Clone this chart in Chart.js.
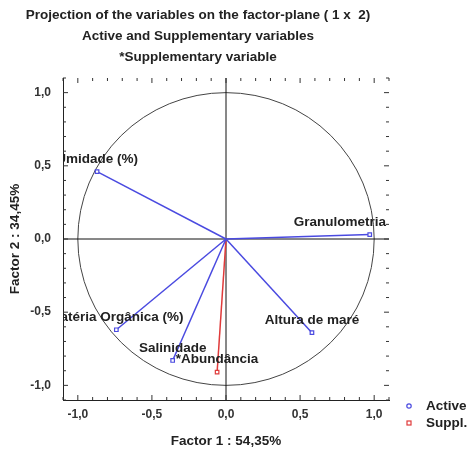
<!DOCTYPE html>
<html>
<head>
<meta charset="utf-8">
<script src="https://cdn.jsdelivr.net/npm/chart.js@4.4.0/dist/chart.umd.min.js"></script>
<style>
  html, body { margin: 0; padding: 0; background: #fff; }
  #wrap { width: 467px; height: 449px; }
</style>
</head>
<body>
<div id="wrap"><canvas id="factorChart"></canvas></div>
<script>
'use strict';

// Variabler og deres koordinater på faktorplanet (1 x 2)
const variableNames = ['Umidade (%)', 'Granulometria', 'Altura de maré', 'Matéria Orgânica (%)', 'Salinidade', '*Abundância'];
const factor1 = [-0.87, 0.97, 0.58, -0.74, -0.36, -0.06];
const factor2 = [0.46, 0.03, -0.64, -0.62, -0.83, -0.91];
const variableType = ['active', 'active', 'active', 'active', 'active', 'suppl'];
const axisTicks = [-1, -0.5, 0, 0.5, 1];
const titleLines = [
    'Projection of the variables on the factor-plane ( 1 x  2)',
    'Active and Supplementary variables',
    '*Supplementary variable'
];
const legendLabels = ['Active', 'Suppl.'];

const FONT = "'Liberation Sans', Arial, sans-serif";
const TEXT = '#222';
const BLUE = '#4a4ae0';
const RED = '#e03a3a';

function fmt(v) {
    return v.toFixed(1).replace('.', ',');
}

const datasets = variableNames.map(function(name, i) {
    const color = variableType[i] === 'suppl' ? RED : BLUE;
    return {
        label: name,
        data: [{ x: 0, y: 0 }, { x: factor1[i], y: factor2[i] }],
        showLine: true,
        borderColor: color,
        borderWidth: 1.5,
        pointStyle: 'rect',
        pointRadius: [0, 2.5],
        pointBorderColor: color,
        pointBackgroundColor: '#fff',
        pointBorderWidth: 1.2
    };
});

// Cirkel, nul-akser og indvendige tick-mærker
const decorPlugin = {
    id: 'decor',
    beforeDatasetsDraw: function(chart) {
        const ctx = chart.ctx;
        const xs = chart.scales.x, ys = chart.scales.y;
        const a = chart.chartArea;
        const cx = xs.getPixelForValue(0), cy = ys.getPixelForValue(0);
        ctx.save();
        ctx.strokeStyle = '#444';
        ctx.lineWidth = 1;
        ctx.beginPath();
        ctx.ellipse(cx, cy, xs.getPixelForValue(1) - cx, cy - ys.getPixelForValue(1), 0, 0, Math.PI * 2);
        ctx.stroke();

        ctx.strokeStyle = '#111';
        ctx.beginPath();
        ctx.moveTo(a.left, cy); ctx.lineTo(a.right, cy);
        ctx.moveTo(cx, a.top); ctx.lineTo(cx, a.bottom);
        ctx.stroke();

        ctx.strokeStyle = '#333';
        ctx.beginPath();
        for (let k = -11; k <= 11; k++) {
            const v = k / 10;
            const len = (k % 5 === 0) ? 5 : 3;
            const px = xs.getPixelForValue(v);
            const py = ys.getPixelForValue(v);
            ctx.moveTo(px, a.bottom); ctx.lineTo(px, a.bottom - len);
            ctx.moveTo(px, a.top); ctx.lineTo(px, a.top + len);
            ctx.moveTo(a.left, py); ctx.lineTo(a.left + len, py);
            ctx.moveTo(a.right, py); ctx.lineTo(a.right - len, py);
        }
        ctx.stroke();
        ctx.restore();
    },
    // Etiketter centreres over punktet, men holdes inden for højre kant
    afterDatasetsDraw: function(chart) {
        const ctx = chart.ctx;
        const xs = chart.scales.x, ys = chart.scales.y;
        const a = chart.chartArea;
        ctx.save();
        ctx.beginPath();
        ctx.rect(a.left, a.top, a.right - a.left, a.bottom - a.top);
        ctx.clip();
        ctx.font = 'bold 13.5px ' + FONT;
        ctx.fillStyle = TEXT;
        ctx.textAlign = 'center';
        ctx.textBaseline = 'middle';
        variableNames.forEach(function(name, i) {
            const px = xs.getPixelForValue(factor1[i]);
            const py = ys.getPixelForValue(factor2[i]);
            const w = ctx.measureText(name).width;
            const x = Math.min(px, a.right - 3 - w / 2);
            ctx.fillText(name, x, py - 12.5);
        });
        ctx.restore();
    },
    afterDraw: function(chart) {
        const ctx = chart.ctx;
        ctx.save();
        ctx.font = 'bold 13.5px ' + FONT;
        ctx.fillStyle = TEXT;
        ctx.textAlign = 'center';
        ctx.textBaseline = 'middle';
        [15, 36, 57].forEach(function(y, i) {
            ctx.fillText(titleLines[i], 198, y);
        });

        // Signaturforklaring
        ctx.textAlign = 'left';
        ctx.lineWidth = 1.2;
        ctx.strokeStyle = BLUE;
        ctx.beginPath();
        ctx.arc(409, 406, 2.2, 0, Math.PI * 2);
        ctx.stroke();
        ctx.strokeStyle = RED;
        ctx.strokeRect(407, 421, 4, 4);
        ctx.fillText(legendLabels[0], 426, 406);
        ctx.fillText(legendLabels[1], 426, 423);
        ctx.restore();
    }
};

new Chart(document.getElementById('factorChart'), {
    type: 'scatter',
    data: { datasets: datasets },
    options: {
        responsive: true,
        maintainAspectRatio: false,
        animation: false,
        layout: { padding: { top: 78, right: 78, left: 0, bottom: 0 } },
        plugins: {
            legend: { display: false },
            tooltip: { enabled: false }
        },
        scales: {
            x: {
                type: 'linear',
                min: -1.1,
                max: 1.1,
                afterBuildTicks: function(scale) {
                    scale.ticks = axisTicks.map(function(v) { return { value: v }; });
                },
                afterFit: function(scale) { scale.height = 49; },
                grid: { display: false, drawTicks: false },
                border: { display: true, color: '#222', width: 1 },
                ticks: {
                    padding: 7,
                    color: '#333',
                    font: { family: FONT, size: 12, weight: 'bold' },
                    callback: function(v) { return fmt(v); }
                },
                title: {
                    display: true,
                    text: 'Factor 1 : 54,35%',
                    color: TEXT,
                    padding: { top: 0, bottom: 0 },
                    font: { family: FONT, size: 13.5, weight: 'bold' }
                }
            },
            y: {
                type: 'linear',
                min: -1.1,
                max: 1.1,
                afterBuildTicks: function(scale) {
                    scale.ticks = axisTicks.map(function(v) { return { value: v }; });
                },
                afterFit: function(scale) { scale.width = 63; },
                grid: { display: false, drawTicks: false },
                border: { display: true, color: '#222', width: 1 },
                ticks: {
                    padding: 12,
                    color: '#333',
                    font: { family: FONT, size: 12, weight: 'bold' },
                    callback: function(v) { return fmt(v); }
                },
                title: {
                    display: true,
                    text: 'Factor 2 : 34,45%',
                    color: TEXT,
                    padding: { top: 7, bottom: 0 },
                    font: { family: FONT, size: 13.5, weight: 'bold' }
                }
            }
        }
    },
    plugins: [decorPlugin]
});
</script>
</body>
</html>
